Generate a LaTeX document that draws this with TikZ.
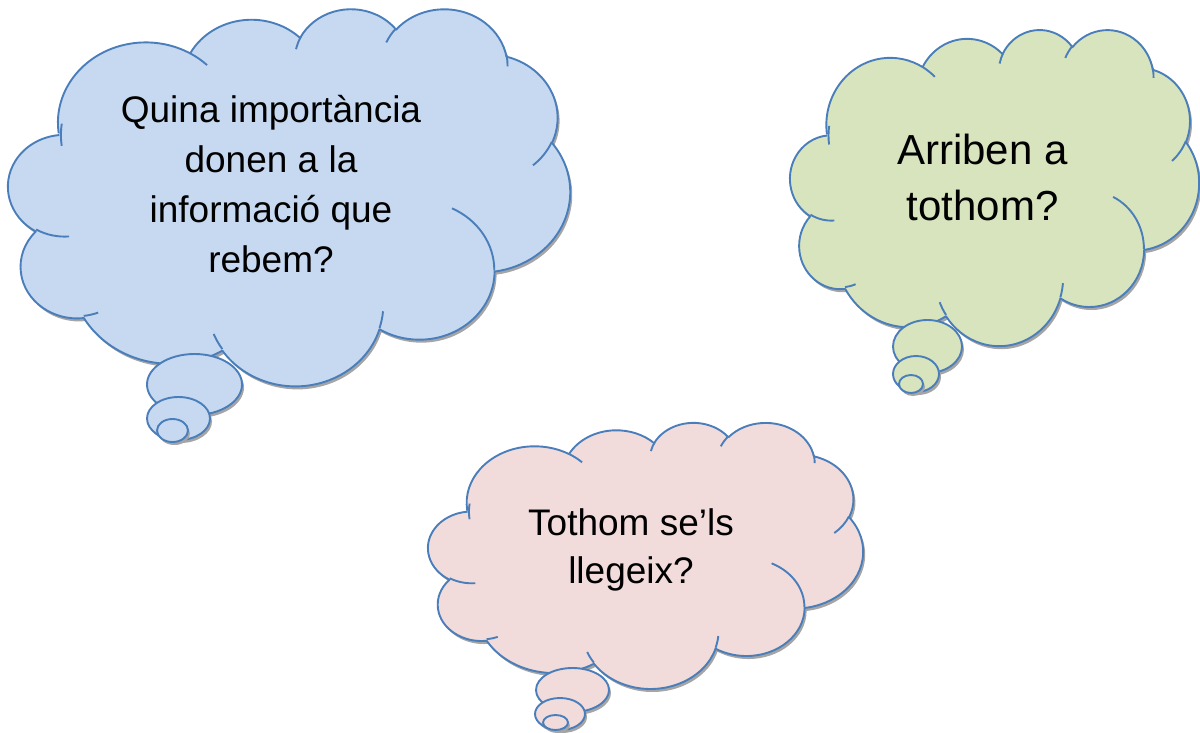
\documentclass[tikz,border=0pt]{standalone}
\usepackage{fontspec}
\setmainfont{Liberation Sans}

\definecolor{cloudline}{HTML}{4A7EBB}
\definecolor{bluecloud}{HTML}{C6D9F1}
\definecolor{greencloud}{HTML}{D7E4BD}
\definecolor{pinkcloud}{HTML}{F2DCDB}
\definecolor{cloudshadow}{HTML}{A5A5A5}

\tikzset{
  cloud/.style={draw=cloudline, line width=1.9pt, line join=round},
  question/.style={align=center, inner sep=0pt, anchor=base}
}

% arc given as in an office shape: radii, start angle, sweep
\newcommand\oarc[4]{%
  \pgfextra{%
    \pgfmathsetmacro\arcD{atan2(#1*sin(#3),#2*cos(#3))-(#3)}%
    \pgfmathsetmacro\arcS{(#3)+(\arcD)-360*round((\arcD)/360)}%
    \pgfmathsetmacro\arcD{atan2(#1*sin(#3+#4),#2*cos(#3+#4))-(#3+#4)}%
    \pgfmathsetmacro\arcE{(#3+#4)+(\arcD)-360*round((\arcD)/360)}%
    \xdef\arcS{\arcS}\xdef\arcE{\arcE}%
  }
  arc[start angle=\arcS, end angle=\arcE, x radius=#1, y radius=#2]}

% cloud outline in a 43.2 x 43.2 box
\newcommand\cloudpath{%
  (3.9,14.37) \oarc{6.753}{9.19}{-190.4875}{123.7805}
  \oarc{5.333}{7.267}{-144.1024}{89.9452}
  \oarc{4.365}{5.945}{-145.8079}{99.7230}
  \oarc{4.857}{6.595}{-130.9861}{117.2417}
  \oarc{5.333}{7.273}{-78.7089}{109.0269}
  \oarc{6.775}{9.22}{-46.2673}{130.2690}
  \oarc{5.785}{7.867}{0.6250}{114.0333}
  \oarc{6.752}{9.215}{22.4516}{115.1726}
  \oarc{7.72}{10.543}{66.2426}{75.2813}
  \oarc{4.36}{5.918}{-274.9421}{146.7356}
  \oarc{4.345}{5.945}{-246.8285}{153}}

% the short inner lines of the puffs
\newcommand\cloudfolds{%
  (4.693,26.177) \oarc{4.345}{5.945}{86.742}{26.4295}
  (6.928,34.899) \oarc{4.36}{5.918}{73.6105}{11.4475}
  (16.478,39.09) \oarc{6.752}{9.215}{137.6242}{14.0811}
  (28.827,34.751) \oarc{6.752}{9.215}{6.4533}{15.9984}
  (34.129,22.954) \oarc{5.785}{7.867}{-70.2924}{70.9174}
  (41.798,15.354) \oarc{5.333}{7.273}{30.3180}{27.7515}
  (38.324,5.426) \oarc{4.857}{6.595}{-13.7443}{14.8589}
  (29.078,3.952) \oarc{4.857}{6.595}{-149.1815}{18.1954}
  (22.141,4.72) \oarc{4.365}{5.945}{-163.4943}{17.6864}
  (14,5.192) \oarc{6.753}{9.19}{-66.7070}{12.3194}
  (4.127,15.789) \oarc{6.753}{9.19}{-190.4875}{21.5091}}

% left, top, width, height, fill
\newcommand\thoughtcloud[5]{%
  \pgfmathsetmacro\cloudw{#3/43.2}%
  \pgfmathsetmacro\cloudh{#4/43.2}%
  \begin{scope}[shift={(#1,#2)}, x=\cloudw pt, y=-\cloudh pt]
    \fill[cloudshadow, shift={(2pt,-3pt)}] \cloudpath;
    \fill[#5] \cloudpath;
    \draw[cloud] \cloudpath;
    \draw[cloud] \cloudfolds;
  \end{scope}}

% centre x, centre y, radii, fill
\newcommand\bubble[5]{%
  \fill[cloudshadow] (#1+2,#2+3) ellipse[x radius=#3, y radius=#4];
  \filldraw[cloud, fill=#5] (#1,#2) ellipse[x radius=#3, y radius=#4];}

\begin{document}
\begin{tikzpicture}[x=1pt, y=-1pt]
  \useasboundingbox (0,0) rectangle (1200,732);

  % blue cloud
  \thoughtcloud{8}{8}{562}{377}{bluecloud}
  \bubble{194.5}{384.5}{47.5}{30.5}{bluecloud}
  \bubble{178.5}{418.5}{31.5}{21.5}{bluecloud}
  \bubble{172.5}{430.5}{15.5}{11.5}{bluecloud}
  \node[question, font=\fontsize{37}{50}\selectfont] (importance) at (271,272)
    {Quina importància\\donen a la\\informació que\\rebem?};

  % green cloud
  \thoughtcloud{790}{29}{409}{316}{greencloud}
  \bubble{927.5}{346.5}{34.5}{26.5}{greencloud}
  \bubble{916}{374}{23}{18}{greencloud}
  \bubble{911}{384}{12}{9}{greencloud}
  \node[question, font=\fontsize{42}{56}\selectfont] (everyone) at (982.5,220)
    {Arriben a\\tothom?};

  % pink cloud
  \thoughtcloud{428}{422}{435}{266}{pinkcloud}
  \bubble{572.5}{690}{36.5}{22}{pinkcloud}
  \bubble{560}{714}{25}{16}{pinkcloud}
  \bubble{555.5}{722.5}{12.5}{7.5}{pinkcloud}
  \node[question, font=\fontsize{37}{48}\selectfont] (readers) at (631,583)
    {Tothom se’ls\\llegeix?};
\end{tikzpicture}
\end{document}
